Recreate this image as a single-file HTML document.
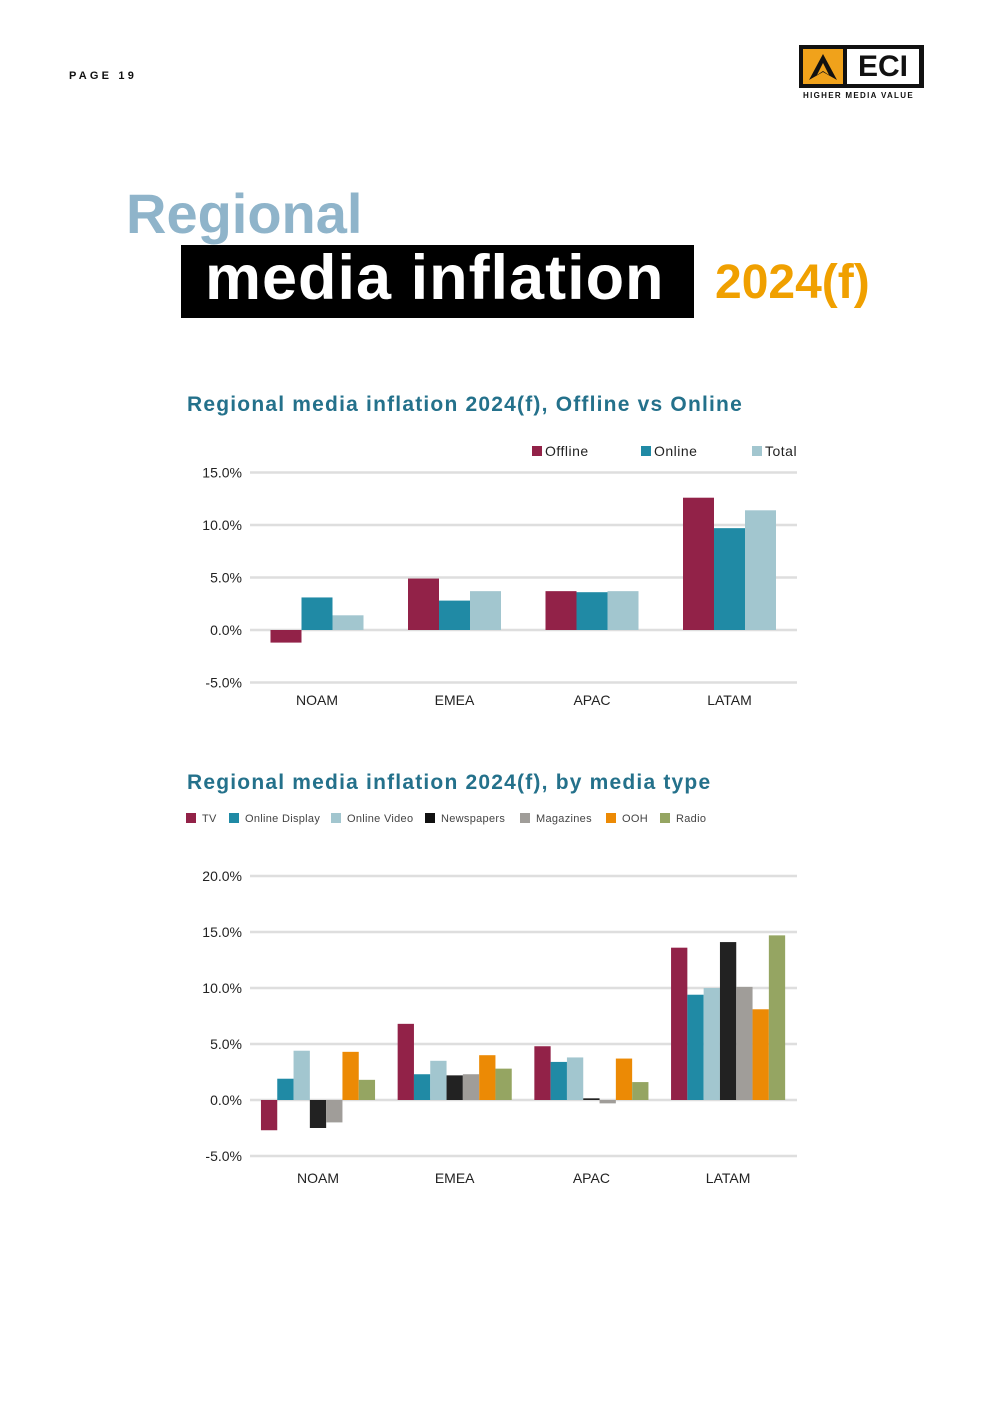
<!DOCTYPE html>
<html><head><meta charset="utf-8">
<style>
body{margin:0;background:#fff;font-family:"Liberation Sans",sans-serif;}
#page{position:relative;width:992px;height:1403px;overflow:hidden;background:#fff;}
.abs{position:absolute;}
</style></head>
<body>
<div id="page">
<div class="abs" style="left:69px;top:70px;font-size:11px;font-weight:bold;letter-spacing:3.2px;color:#111">PAGE 19</div>
<div class="abs" style="left:799px;top:45px;width:125px;height:43px;background:#111">
  <div class="abs" style="left:4px;top:4px;width:40px;height:35px;background:#f0a21b"></div>
  <svg class="abs" style="left:8px;top:7px" width="32" height="30"><polygon points="16,2 30,28 16,20 2,28" fill="#111"/><polygon points="16,11 22,23 16,19 10,23" fill="#f0a21b"/></svg>
  <div class="abs" style="left:48px;top:4px;width:72px;height:35px;background:#fff;font-weight:900;font-size:30px;line-height:35px;text-align:center;color:#111">ECI</div>
</div>
<div class="abs" style="left:803px;top:91px;font-size:8px;font-weight:900;color:#111;letter-spacing:1.3px">HIGHER MEDIA VALUE</div>

<div class="abs" style="left:126px;top:181px;font-size:56px;font-weight:bold;color:#8fb4ca;line-height:66px">Regional</div>
<div class="abs" style="left:181px;top:245px;width:513px;height:73px;background:#000"></div>
<div class="abs" style="left:205px;top:240px;font-size:63px;font-weight:bold;color:#fff;line-height:76px;letter-spacing:1px">media inflation</div>
<div class="abs" style="left:715px;top:254px;font-size:48px;font-weight:bold;color:#f0a000;line-height:58px">2024(f)</div>

<div class="abs" style="left:187px;top:393px;font-size:21px;font-weight:bold;color:#24718b;letter-spacing:1.2px">Regional media inflation 2024(f), Offline vs Online</div>
<div class="abs" style="left:187px;top:771px;font-size:21px;font-weight:bold;color:#24718b;letter-spacing:1.2px">Regional media inflation 2024(f), by media type</div>

<svg class="abs" style="left:0;top:0" width="992" height="1403" id="svg"></svg>
</div>
<script>
const regions=["NOAM","EMEA","APAC","LATAM"];
const c1Series=["Offline","Online","Total"];
const c1Offline=[-1.2,4.9,3.7,12.6];
const c1Online=[3.1,2.8,3.6,9.7];
const c1Total=[1.4,3.7,3.7,11.4];
const c1Ticks=[15,10,5,0,-5];
const c2Series=["TV","Online Display","Online Video","Newspapers","Magazines","OOH","Radio"];
const c2TV=[-2.7,6.8,4.8,13.6];
const c2OnlineDisplay=[1.9,2.3,3.4,9.4];
const c2OnlineVideo=[4.4,3.5,3.8,10.0];
const c2Newspapers=[-2.5,2.2,0.15,14.1];
const c2Magazines=[-2.0,2.3,-0.3,10.1];
const c2OOH=[4.3,4.0,3.7,8.1];
const c2Radio=[1.8,2.8,1.6,14.7];
const c2Ticks=[20,15,10,5,0,-5];

const NS="http://www.w3.org/2000/svg";
const svg=document.getElementById('svg');
function mk(t,a,txt){const e=document.createElementNS(NS,t);for(const k in a)e.setAttribute(k,a[k]);if(txt!==undefined)e.textContent=txt;svg.appendChild(e);return e;}

function chart(cfg){
  const y=v=>cfg.y0-v*cfg.ppu;
  cfg.ticks.forEach(t=>{
    const g=mk('line',{x1:250,x2:797,y1:y(t),y2:y(t),stroke:'#dedede','stroke-width':2.5});
    
    
    const l=mk('text',{x:242,y:y(t)+5,'text-anchor':'end','font-size':14,fill:'#222','font-family':'Liberation Sans, sans-serif'},t.toFixed(1)+'%');
    
    
  });
  const n=cfg.series.length;
  regions.forEach((r,i)=>{
    const cx=cfg.cx0+i*cfg.step;
    const x0=cx-n*cfg.bw/2;
    cfg.series.forEach((s,j)=>{
      const v=s[i];
      const b=mk('rect',{x:x0+j*cfg.bw,y:Math.min(y(v),y(0)),width:cfg.bw,height:Math.max(Math.abs(y(v)-y(0)),1.5),fill:cfg.colors[j]});
      
      
    });
    const t=mk('text',{x:cx,y:cfg.labY,'text-anchor':'middle','font-size':14,fill:'#222','font-family':'Liberation Sans, sans-serif'},r);
    
    
  });
}
chart({y0:630,ppu:10.5,ticks:c1Ticks,cx0:317,step:137.5,bw:31,series:[c1Offline,c1Online,c1Total],colors:['#922248','#208aa5','#a2c6cf'],labY:705});
chart({y0:1100,ppu:11.2,ticks:c2Ticks,cx0:318,step:136.7,bw:16.3,series:[c2TV,c2OnlineDisplay,c2OnlineVideo,c2Newspapers,c2Magazines,c2OOH,c2Radio],colors:['#922248','#208aa5','#a2c6cf','#222222','#a09d99','#ec8a05','#95a562'],labY:1183});

const l1x=[532,641,752],c1c=['#922248','#208aa5','#a2c6cf'];
c1Series.forEach((s,i)=>{
  const r=mk('rect',{x:l1x[i],y:446,width:10,height:10,fill:c1c[i]});
  
  
  const t=mk('text',{x:l1x[i]+13,y:456,'font-size':14,fill:'#222','letter-spacing':'0.5','font-family':'Liberation Sans, sans-serif'},s);
  
  
});
const l2x=[186,229,331,425,520,606,660],c2c=['#922248','#208aa5','#a2c6cf','#111','#a09d99','#ec8a05','#95a562'];
c2Series.forEach((s,i)=>{
  const r=mk('rect',{x:l2x[i],y:813,width:10,height:10,fill:c2c[i]});
  
  
  const t=mk('text',{x:l2x[i]+16,y:822,'font-size':11,fill:'#444','letter-spacing':'0.3','font-family':'Liberation Sans, sans-serif'},s);
  
  
});
</script>
</body></html>
